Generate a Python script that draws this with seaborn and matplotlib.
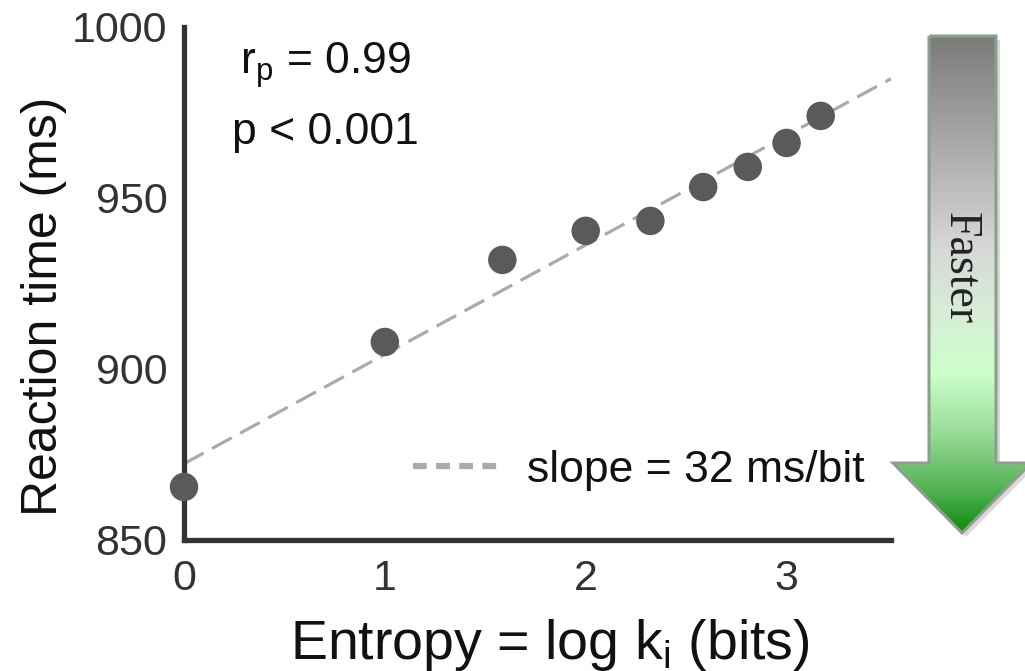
import numpy as np
import pandas as pd
import matplotlib
matplotlib.use("Agg")
import matplotlib.pyplot as plt
from matplotlib.patches import Polygon
from matplotlib.colors import LinearSegmentedColormap
import seaborn as sns

# ---- data ----
entropy_bits = [0.0, 1.0, 1.585, 2.0, 2.322, 2.585, 2.807, 3.0, 3.17]
reaction_ms = [865.5, 907.9, 931.9, 940.4, 943.3, 953.2, 959.1, 966.1, 974.0]
x_ticks = [0, 1, 2, 3]
y_ticks = [850, 900, 950, 1000]
stat_lines = ["r$_\\mathregular{p}$ = 0.99", "p < 0.001"]
legend_label = "slope = 32 ms/bit"
arrow_label = "Faster"

df = pd.DataFrame({"entropy": entropy_bits, "rt": reaction_ms})

sns.set_theme(style="white")
plt.rcParams["font.family"] = ["Liberation Sans", "DejaVu Sans"]
plt.rcParams["mathtext.fontset"] = "custom"
plt.rcParams["mathtext.rm"] = "Liberation Sans"

W, H = 1025, 671
fig = plt.figure(figsize=(W / 100, H / 100), dpi=100)
fig.patch.set_facecolor("white")

ax = fig.add_axes([184 / W, 1 - 540 / H, (891 - 184) / W, (540 - 27) / H])
ax.set_xlim(0, 3.52)
ax.set_ylim(850, 1000)

dark = "#333333"
line_col = "#aaaaaa"
sns.regplot(data=df, x="entropy", y="rt", ax=ax, ci=None, scatter=False,
            truncate=False, label=legend_label,
            line_kws=dict(color=line_col, lw=2.3, dashes=(7, 3), zorder=2))
sns.scatterplot(data=df, x="entropy", y="rt", ax=ax, s=420, color="#5a5a5a",
                edgecolor="none", zorder=3, clip_on=False, legend=False)

for s in ["top", "right"]:
    ax.spines[s].set_visible(False)
for s in ["left", "bottom"]:
    ax.spines[s].set_color(dark)
    ax.spines[s].set_linewidth(3.8)
ax.set_xticks(x_ticks)
ax.set_yticks(y_ticks)
ax.tick_params(axis="both", direction="in", length=7, width=3.8, color=dark,
               labelsize=31, labelcolor="#333333")
ax.tick_params(axis="y", pad=12)
ax.tick_params(axis="x", pad=14)
ax.set_xlabel("Entropy = log k$_\\mathregular{i}$ (bits)", fontsize=40,
              color="#111111")
ax.set_ylabel("Reaction time (ms)", fontsize=36, color="#111111")
ax.xaxis.set_label_coords(0.518, -0.150)
ax.yaxis.set_label_coords(-0.166, 0.455)

ax.text(0.20, 0.925, stat_lines[0], transform=ax.transAxes, fontsize=32,
        ha="center", va="center", color="#111111")
ax.text(0.20, 0.795, stat_lines[1], transform=ax.transAxes, fontsize=32,
        ha="center", va="center", color="#111111")

handles, labels = ax.get_legend_handles_labels()
leg = ax.legend(handles, labels, loc="center right",
                bbox_to_anchor=(0.962, 0.136),
                frameon=False, fontsize=32, handlelength=2.0,
                handletextpad=0.55, borderaxespad=0, borderpad=0)
for t in leg.get_texts():
    t.set_color("#111111")
for ln in leg.get_lines():
    ln.set_linewidth(4.5)
    ln.set_dashes((2.2, 1.5))

# ---- "Faster" arrow overlay (figure pixel coordinates) ----
ov = fig.add_axes([0, 0, 1, 1], zorder=5)
ov.set_xlim(0, W)
ov.set_ylim(H, 0)
ov.axis("off")
ov.patch.set_alpha(0)

verts = [(929, 36), (996, 36), (996, 463), (1031, 463), (962, 533),
         (893, 463), (929, 463)]
shadow = Polygon([(x + 4, y + 4) for x, y in verts], closed=True,
                 facecolor="#000000", alpha=0.15, edgecolor="none", zorder=1)
ov.add_patch(shadow)
poly = Polygon(verts, closed=True, facecolor="none", edgecolor="#8c9f8c",
               lw=2.2, zorder=3)
ov.add_patch(poly)
cmap = LinearSegmentedColormap.from_list(
    "fast",
    [(0.0, "#7b7b7b"), (0.22, "#aaaaaa"), (0.42, "#d6d6d6"),
     (0.55, "#d8ecd8"), (0.68, "#ccffcc"), (0.80, "#98dc98"),
     (0.90, "#5cb85c"), (1.0, "#0e8a0e")])
grad = np.linspace(0, 1, 256).reshape(-1, 1)
im = ov.imshow(grad, cmap=cmap, extent=(893, 1031, 533, 36), aspect="auto",
               zorder=2, interpolation="bicubic")
im.set_clip_path(Polygon(verts, closed=True, transform=ov.transData))
ov.text(960, 268, arrow_label, rotation=-90, ha="center", va="center",
        fontsize=33, family="Liberation Serif", color="#222222", zorder=4)
ov.set_xlim(0, W)
ov.set_ylim(H, 0)

fig.savefig("out.png", dpi=100, facecolor="white")
